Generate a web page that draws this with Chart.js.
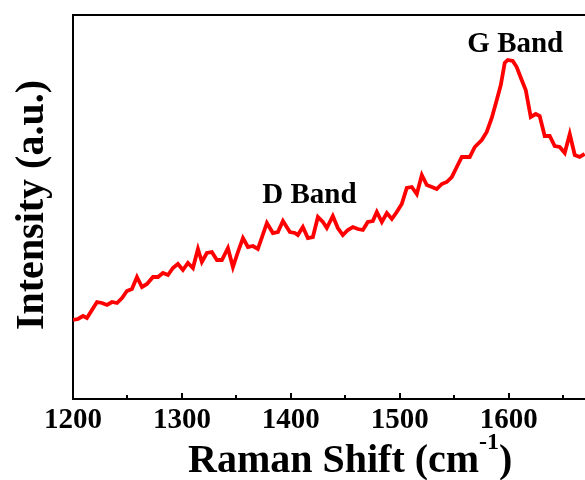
<!DOCTYPE html>
<html>
<head>
<meta charset="utf-8">
<script src="https://cdn.jsdelivr.net/npm/chart.js@4"></script>
<style>
  body { margin: 0; background: #fff; }
</style>
</head>
<body>
<canvas id="myChart" width="585" height="480"></canvas>
<script>
// Raman shift (cm-1) and intensity (a.u.)
var ramanShift = [1200, 1204.6, 1209.2, 1212.8, 1217.4, 1222.0, 1226.6, 1231.2, 1235.8, 1240.4,
    1245.0, 1249.5, 1254.1, 1258.7, 1263.3, 1267.9, 1273.4, 1278.0, 1282.6, 1287.2,
    1291.7, 1296.3, 1300.9, 1305.5, 1310.1, 1314.7, 1318.3, 1322.9, 1327.5, 1332.1,
    1336.7, 1342.2, 1346.8, 1351.4, 1356.0, 1360.6, 1365.1, 1369.7, 1378.0, 1383.5,
    1388.1, 1392.7, 1399.1, 1403.7, 1406.4, 1411.0, 1415.6, 1420.2, 1424.8, 1429.4,
    1433.0, 1438.5, 1443.1, 1447.7, 1452.3, 1456.9, 1461.5, 1466.1, 1470.6, 1475.2,
    1478.9, 1483.5, 1488.1, 1492.7, 1497.2, 1501.8, 1506.4, 1511.0, 1515.6, 1520.2,
    1524.8, 1529.4, 1533.9, 1538.5, 1543.1, 1547.7, 1552.3, 1556.9, 1564.2, 1568.8,
    1575.2, 1579.8, 1584.4, 1589.0, 1592.7, 1596.3, 1599.1, 1603.7, 1607.3, 1611.9,
    1615.6, 1620.2, 1624.8, 1628.4, 1633.0, 1637.6, 1642.2, 1646.8, 1651.4, 1656.0,
    1660.6, 1665.1, 1669.7];

var intensity = [79, 80, 83, 81, 89, 97, 96, 94, 97, 96,
    101, 108, 110, 122, 112, 115, 122, 122, 126, 124,
    131, 135, 129, 136, 131, 150, 137, 146, 147, 139,
    139, 151, 132, 147, 161, 152, 153, 150, 176, 166,
    167, 178, 167, 166, 164, 172, 161, 162, 182, 177,
    171, 183, 171, 164, 169, 172, 170, 169, 177, 178,
    187, 177, 186, 180, 187, 195, 211, 212, 205, 224,
    214, 212, 210, 215, 217, 222, 232, 242, 242, 252,
    259, 267, 281, 299, 314, 336, 339, 338, 332, 319,
    309, 282, 285, 283, 263, 263, 253, 252, 246, 265,
    244, 242, 245];

var tickLabels = [1200, 1300, 1400, 1500, 1600];

var bandNames = ['D Band', 'G Band'];
var bandShifts = [1417, 1606];
var bandLevels = [196, 347];

var serif = '"Liberation Serif", "Times New Roman", serif';

// inward tick marks, axis titles and band labels
var decor = {
    id: 'decor',
    afterDraw: function(chart) {
        var ctx = chart.ctx;
        var x = chart.scales.x;
        var y = chart.scales.y;
        var area = chart.chartArea;

        ctx.save();
        ctx.strokeStyle = '#000';
        ctx.lineWidth = 2;
        x.ticks.forEach(function(t) {
            var px = Math.round(x.getPixelForValue(t.value));
            var len = tickLabels.indexOf(t.value) >= 0 ? 6 : 4;
            ctx.beginPath();
            ctx.moveTo(px, area.bottom);
            ctx.lineTo(px, area.bottom - len);
            ctx.stroke();
        });

        ctx.fillStyle = '#000';
        ctx.textBaseline = 'alphabetic';

        // x title with superscript
        ctx.textAlign = 'left';
        ctx.font = 'bold 40px ' + serif;
        var main = 'Raman Shift (cm';
        var x0 = 188, base = 472;
        ctx.fillText(main, x0, base);
        var w = ctx.measureText(main).width;
        ctx.font = 'bold 24px ' + serif;
        ctx.fillText('-1', x0 + w, base - 23);
        var w2 = ctx.measureText('-1').width;
        ctx.font = 'bold 40px ' + serif;
        ctx.fillText(')', x0 + w + w2, base);

        // y title
        ctx.save();
        ctx.translate(43, 205);
        ctx.rotate(-Math.PI / 2);
        ctx.textAlign = 'center';
        ctx.font = 'bold 40px ' + serif;
        ctx.fillText('Intensity (a.u.)', 0, 0);
        ctx.restore();

        // band labels
        ctx.textAlign = 'center';
        ctx.font = 'bold 29px ' + serif;
        for (var i = 0; i < bandNames.length; i++) {
            ctx.fillText(bandNames[i], x.getPixelForValue(bandShifts[i]), y.getPixelForValue(bandLevels[i]));
        }
        ctx.restore();
    }
};

var ctx = document.getElementById('myChart').getContext('2d');
var chart = new Chart(ctx, {
    type: 'line',
    data: {
        datasets: [{
            label: 'Raman',
            data: ramanShift.map(function(s, i) { return { x: s, y: intensity[i] }; }),
            borderColor: '#ff0000',
            borderWidth: 3.8,
            pointRadius: 0,
            tension: 0,
            fill: false
        }]
    },
    options: {
        responsive: false,
        animation: false,
        layout: { padding: 0 },
        plugins: { legend: { display: false }, tooltip: { enabled: false } },
        scales: {
            x: {
                type: 'linear',
                position: 'bottom',
                min: 1200,
                max: 1670,
                grid: { display: false, drawTicks: false },
                border: { color: '#000', width: 2 },
                ticks: {
                    stepSize: 50,
                    includeBounds: false,
                    autoSkip: false,
                    maxRotation: 0,
                    padding: 4,
                    color: '#000',
                    font: { family: serif, weight: 'bold', size: 29 },
                    callback: function(v) { return tickLabels.indexOf(v) >= 0 ? String(v) : ''; }
                },
                afterFit: function(s) { s.height = 81; }
            },
            x2: {
                type: 'linear',
                position: 'top',
                min: 1200,
                max: 1670,
                grid: { display: false, drawTicks: false },
                border: { color: '#000', width: 2 },
                ticks: { display: false },
                afterFit: function(s) { s.height = 15; }
            },
            y: {
                min: 0,
                max: 384,
                grid: { display: false, drawTicks: false },
                border: { color: '#000', width: 2 },
                ticks: { display: false },
                afterFit: function(s) { s.width = 73; }
            }
        }
    },
    plugins: [decor]
});
</script>
</body>
</html>
